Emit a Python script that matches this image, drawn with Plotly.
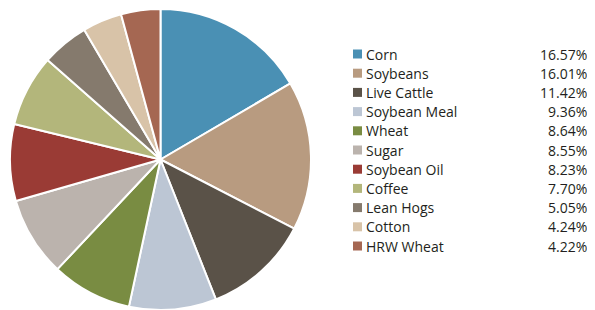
import plotly.graph_objects as go

categories = ["Corn", "Soybeans", "Live Cattle", "Soybean Meal", "Wheat", "Sugar",
              "Soybean Oil", "Coffee", "Lean Hogs", "Cotton", "HRW Wheat"]
weights = [16.57, 16.01, 11.42, 9.36, 8.64, 8.55, 8.23, 7.70, 5.05, 4.24, 4.22]
colors = ["#4A90B4", "#B89B80", "#5A5248", "#BCC6D4", "#798C42", "#BBB3AD",
          "#9A3B35", "#B3B67B", "#857A6D", "#D8C3A8", "#A56752"]

# page body has an 8px default margin; work in reference pixels minus 8
OFF = 8
W, H = 595 - OFF, 310 - OFF


def px(x):
    return (x - OFF) / W


def py(y):
    return 1 - (y - OFF) / H


fig = go.Figure(go.Pie(
    labels=categories, values=weights, sort=False, direction="clockwise",
    rotation=0, marker=dict(colors=colors, line=dict(color="white", width=2)),
    textinfo="none", hoverinfo="label+value", showlegend=False,
    domain=dict(x=[px(9), px(312)], y=[max(0, py(311)), py(9)]),
))

font = dict(family="Open Sans, Noto Sans, sans-serif", size=14, color="#231F20")
y0, dy = 54, 19.2
shapes, annotations = [], []
for i, (c, v, col) in enumerate(zip(categories, weights, colors)):
    yc = y0 + i * dy
    shapes.append(dict(type="rect", xref="paper", yref="paper",
                       x0=px(353), x1=px(362), y0=py(yc + 4.5), y1=py(yc - 4.5),
                       fillcolor=col, line=dict(width=0)))
    annotations.append(dict(x=px(364), y=py(yc), xref="paper", yref="paper",
                            text=c, showarrow=False, xanchor="left", yanchor="middle",
                            font=font))
    annotations.append(dict(x=px(589), y=py(yc), xref="paper", yref="paper",
                            text=f"{v:.2f}%", showarrow=False, xanchor="right",
                            yanchor="middle", font=font))

fig.update_layout(width=W, height=H, margin=dict(l=0, r=0, t=0, b=0),
                  paper_bgcolor="white", plot_bgcolor="white",
                  shapes=shapes, annotations=annotations)
fig.write_html("out.html")
